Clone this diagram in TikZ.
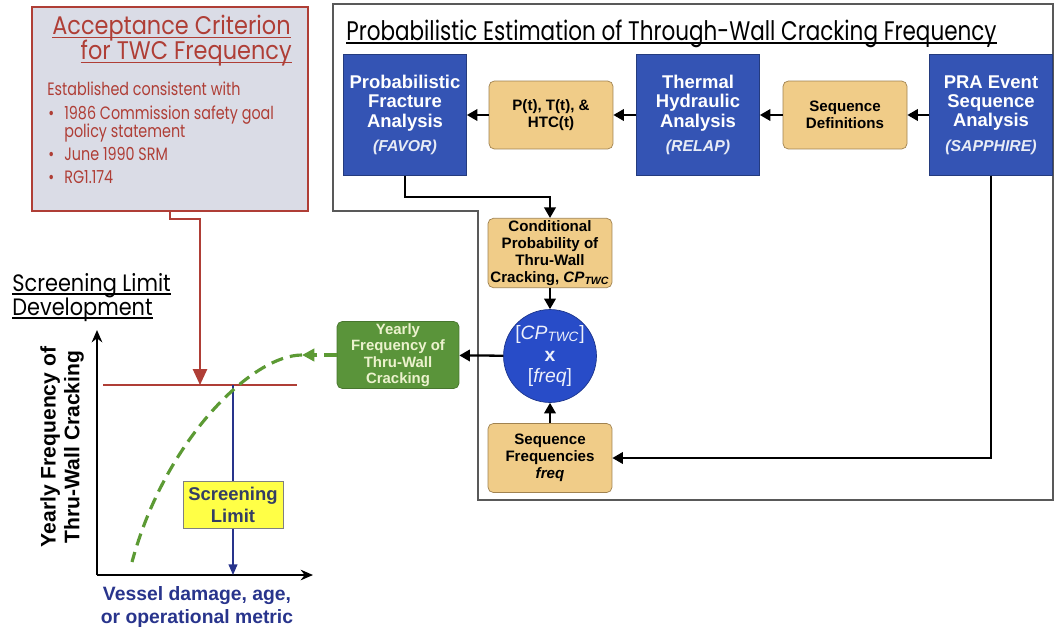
\documentclass[tikz,border=0pt]{standalone}
\usepackage{fontspec}
\setmainfont{Liberation Sans}
\newfontfamily\futura[FakeStretch=0.8]{Poppins}
\newfontfamily\futuralta[FakeStretch=0.88]{Poppins}
\usetikzlibrary{arrows.meta,positioning}

\definecolor{boxblue}{RGB}{52,84,180}
\definecolor{circblue}{RGB}{40,76,200}
\definecolor{tanfill}{RGB}{240,204,136}
\definecolor{tanedge}{RGB}{160,130,80}
\definecolor{grnfill}{RGB}{90,148,58}
\definecolor{grntext}{RGB}{236,242,206}
\definecolor{grndash}{RGB}{92,154,52}
\definecolor{accred}{RGB}{175,62,54}
\definecolor{accfill}{RGB}{218,220,230}
\definecolor{navy}{RGB}{40,52,140}
\definecolor{yelbox}{RGB}{255,255,70}
\definecolor{slate}{RGB}{52,62,100}

% sottolineatura a distanza fissa
\newcommand{\sottol}[2][-2pt]{\setbox0\hbox{#2}\rlap{\rule[#1]{\wd0}{0.6pt}}\box0}
% nome del codice nei box blu
\newcommand{\sigla}{\color{white!88!boxblue}\bfseries\itshape\fontsize{9}{10}\selectfont}

\tikzset{
  blubox/.style={rectangle, draw=boxblue!70!black, fill=boxblue, text=white, minimum width=2.46cm, minimum height=2.42cm, align=center, inner sep=1pt, font=\bfseries\fontsize{10.5}{11}\selectfont},
  tanbox/.style={rectangle, rounded corners=3pt, draw=tanedge, fill=tanfill, minimum width=2.48cm, minimum height=1.36cm, align=center, inner sep=1pt, font=\bfseries\fontsize{8.6}{9.8}\selectfont},
  freccia/.style={line width=1.3pt, -{Triangle[length=6pt,width=6.5pt]}},
  curva/.style={grndash, line width=1.8pt, dash pattern=on 7pt off 4pt},
  titolo/.style={inner sep=0pt, font=\futura\fontsize{15.3}{17}\selectfont},
  rosso/.style={titolo, text=accred, anchor=base west, font=\futura\fontsize{10.2}{12}\selectfont},
}

\begin{document}
\begin{tikzpicture}[x=0.02cm, y=-0.02cm]
\useasboundingbox (0,0) rectangle (1054,629);

% cornice
\draw[gray!70!black, line width=0.6pt] (333,4) -- (1053,4) -- (1053,500) -- (478,500) -- (478,211) -- (333,211) -- cycle;
\node[titolo, anchor=base west] (ptitle) at (346,40) {\sottol{Probabilistic Estimation of Through-Wall Cracking Frequency}};

% criterio di accettazione
\node[rectangle, draw=accred, line width=1.2pt, fill=accfill, minimum width=5.52cm, minimum height=4.08cm] (accept) at (170,109) {};
\node[titolo, text=accred, anchor=base east, font=\futuralta\fontsize{14.5}{16}\selectfont] (acct1) at (291,34) {\sottol[-2.2pt]{Acceptance Criterion}};
\node[titolo, text=accred, anchor=base east, font=\futuralta\fontsize{14.5}{16}\selectfont] (acct2) at (292,59) {\sottol[-2.2pt]{for TWC Frequency}};
\node[rosso] (est) at (47,95) {Established consistent with};
\foreach \yy/\txt in {119/1986 Commission safety goal, 160/June 1990 SRM, 183/RG1.174}{
  \node[rosso] at (48,\yy) {\textbullet};
  \node[rosso] at (64,\yy) {\txt};
}
\node[rosso] (pol) at (64,137) {policy statement};

% riga superiore
\node[blubox] (favor) at (405,115) {Probabilistic\\Fracture\\Analysis\\[3pt]{\sigla (FAVOR)}};
\node[tanbox] (pth) at (551,115) {P(t), T(t), \&\\HTC(t)};
\node[blubox] (relap) at (698,115) {Thermal\\Hydraulic\\Analysis\\[3pt]{\sigla (RELAP)}};
\node[tanbox] (seqdef) at (845,115) {Sequence\\Definitions};
\node[blubox] (sapph) at (991,115) {PRA Event\\Sequence\\Analysis\\[3pt]{\sigla (SAPPHIRE)}};

% colonna centrale
\node[tanbox, minimum height=1.38cm] (cond) at (550,253) {Conditional\\Probability of\\Thru-Wall\\Cracking, \textit{CP}\textsubscript{\textit{TWC}}};
\node[circle, draw=circblue!70!black, fill=circblue, text=white!92!circblue, minimum size=1.84cm, inner sep=0pt, align=center, font=\fontsize{11}{12.5}\selectfont] (prod) at (550,356) {{[}\textit{CP}\textsubscript{\textit{TWC}}{]}\\\textbf{x}\\{[}\textit{freq}{]}};
\node[tanbox, minimum height=1.38cm] (seqfreq) at (550,458) {Sequence\\Frequencies\\\textit{freq}};
\node[rectangle, rounded corners=3pt, draw=grnfill!80!black, fill=grnfill, text=grntext, minimum width=2.44cm, minimum height=1.34cm, align=center, inner sep=1pt, font=\bfseries\fontsize{8.5}{9.4}\selectfont] (yfreq) at (398,355) {Yearly\\Frequency of\\Thru-Wall\\Cracking};

% archi
\draw[freccia] (sapph) -- (seqdef);
\draw[freccia] (seqdef) -- (relap);
\draw[freccia] (relap) -- (pth);
\draw[freccia] (pth) -- (favor);
\draw[freccia] (favor.south) |- (550,197) -- (cond.north);
\draw[freccia] (cond) -- (prod);
\draw[freccia] (seqfreq) -- (prod);
\draw[freccia] (sapph.south) |- (seqfreq.east);
\draw[freccia] (prod) -- (yfreq);

% grafico
\node[titolo, anchor=base west, font=\futuralta\fontsize{13.5}{15}\selectfont] (sld1) at (12,291) {\sottol{Screening Limit}};
\node[titolo, anchor=base west, font=\futuralta\fontsize{13.5}{15}\selectfont] (sld2) at (12,315) {\sottol{Development}};
\coordinate (orig) at (97,575);
\coordinate (ytop) at (97,330);
\coordinate (xend) at (313,575);
\coordinate (critL) at (103,385);
\coordinate (critR) at (297,385);
\coordinate (critA) at (200,385);
\coordinate (slim) at (233,385);
\coordinate (ctop) at (302,355);
\coordinate (cbot) at (132,562);
\draw[line width=1.2pt, -{Stealth[length=7pt,width=6pt]}] (orig) -- (ytop);
\draw[line width=1.2pt, -{Stealth[length=7pt,width=6pt]}] (orig) -- (xend);
\draw[accred, line width=1.6pt] (critL) -- (critR);
\draw[accred, line width=1.2pt, -{Triangle[length=9pt,width=8pt]}] (accept.south) -- ++(0,7) -| (critA);
\draw[navy, line width=0.7pt, -{Triangle[length=6pt,width=5pt]}] (slim) -- (slim |- orig);
\draw[curva, -{Triangle[length=7pt,width=7pt]}] (yfreq.west) -- (ctop);
\draw[curva] (ctop) .. controls (252,355) and (165,440) .. (cbot);
\node[rectangle, draw=gray, fill=yelbox, text=slate, minimum width=2cm, minimum height=0.94cm, align=center, inner sep=1pt, font=\bfseries\fontsize{10.5}{12.5}\selectfont] (screen) at (233,505) {Screening\\Limit};
\node[rotate=90, align=center, font=\bfseries\fontsize{12}{13.5}\selectfont] (ylab) at (62,447) {Yearly Frequency of\\Thru-Wall Cracking};
\node[align=center, text=navy, font=\bfseries\fontsize{11}{13.5}\selectfont] (xlab) at (197,607) {Vessel damage, age,\\or operational metric};

\end{tikzpicture}
\end{document}
